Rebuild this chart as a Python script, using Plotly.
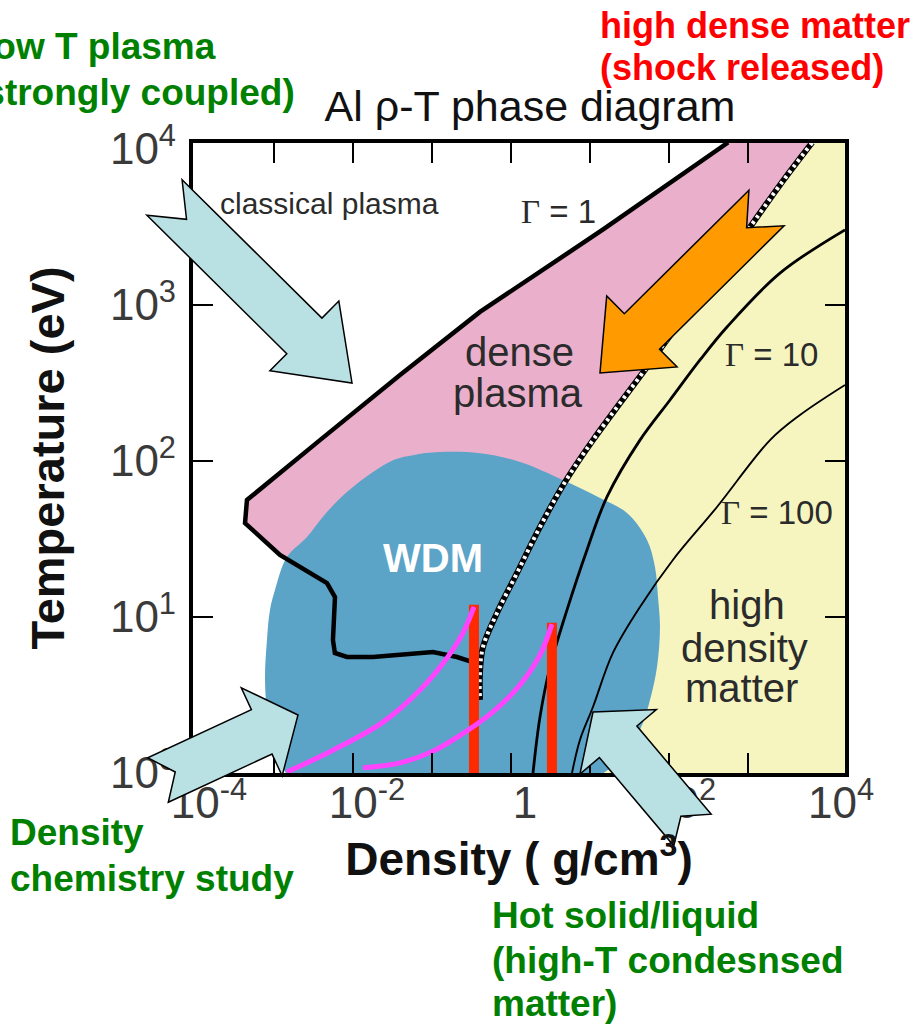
import math
import plotly.graph_objects as go

# ---------------------------------------------------------------
# Al density-temperature plane: region boundaries and guide curves
# density rho in g/cm^3, temperature T in eV
# ---------------------------------------------------------------

# Gamma = 1 boundary (classical plasma / dense plasma)
gamma1_rho = [560, 15.0, 0.405, 0.0394, 0.00382, 4.55e-4, 4.3e-4, 1.19e-3,
              4.69e-3, 5.92e-3, 5.58e-3, 5.9e-3, 8.4e-3, 0.0179, 0.103, 0.207, 0.321]
gamma1_T = [11000, 3070, 902, 356, 136, 56.2, 40.0, 25.0,
            16.5, 13.4, 7.12, 5.88, 5.54, 5.54, 5.97, 5.54, 5.15]

# dashed boundary between dense plasma and high density matter
degen_rho = [6500, 2540, 1157, 247, 57.5, 10.9, 4.83, 2.33, 1.19, 0.665, 0.442, 0.405, 0.405]
degen_T = [11000, 5880, 3357, 1159, 425, 136, 73.3, 37.8, 19.1, 10.6, 6.42, 4.38, 2.94]

# Gamma = 10 and Gamma = 100 coupling lines
gamma10_rho = [16900, 2540, 542, 247, 103, 42.9, 16.4, 9.16, 5.12, 3.12, 2.33, 1.90]
gamma10_T = [3030, 1600, 722, 444, 246, 136, 58.8, 26.9, 11.1, 4.78, 2.29, 1.0]

gamma100_rho = [16900, 4550, 1900, 405, 112, 42.9, 19.5, 10.9, 7.47, 5.92]
gamma100_T = [307, 197, 136, 50.7, 23.2, 11.6, 5.88, 2.65, 1.63, 1.0]

# warm dense matter domain outline
wdm_rho = [1.46e-3, 1.03e-3, 8.4e-4, 7.7e-4, 8.15e-4, 8.9e-4, 1.03e-3, 1.46e-3,
           2.62e-3, 4.69e-3, 0.010, 0.0321, 0.0574, 0.126, 0.405, 1.30, 4.55,
           13.4, 29.4, 52.7, 66.5, 72.6, 76.9, 70.5, 57.5, 42.9, 24.0, 13.4]
wdm_T = [0.97, 1.40, 2.19, 3.95, 7.12, 11.1, 14.9, 24.2,
         32.6, 47.1, 68.1, 101, 109, 114, 112, 98.6, 75.5,
         57.9, 46.4, 31.2, 20.9, 13.4, 8.63, 4.78, 2.94, 1.89, 1.21, 0.97]

# release paths from the heated states
path1_rho = [1.46e-3, 5.58e-3, 0.024, 0.0705, 0.155, 0.247, 0.34]
path1_T = [1.015, 1.40, 2.12, 3.40, 5.46, 7.90, 11.6]
path2_rho = [0.0134, 0.0394, 0.109, 0.277, 0.627, 1.30, 2.33, 3.3]
path2_T = [1.08, 1.16, 1.40, 1.86, 2.53, 3.67, 5.71, 9.0]

# isochoric heating: density and peak temperature
heated_rho = [0.34, 3.3]
heated_T = [12.0, 9.2]

# axis ticks and labels
x_tick_vals = [1e-3, 1e-2, 1e-1, 1, 10, 100, 1000]
x_label_vals = [1e-4, 1e-2, 1, 1e2, 1e4]
x_label_text = ["10<sup>-4</sup>", "10<sup>-2</sup>", "1", "10<sup>2</sup>", "10<sup>4</sup>"]
y_tick_vals = [10, 100, 1000]
y_label_vals = [1, 10, 100, 1000, 10000]
y_label_text = ["10<sup>0</sup>", "10<sup>1</sup>", "10<sup>2</sup>", "10<sup>3</sup>", "10<sup>4</sup>"]

X_RANGE = [-4.025, 4.228]
Y_RANGE = [0.0, 4.038]

# ---------------------------------------------------------------
W, H = 918, 1025
ML, MR, MT, MB = 193, 73, 143, 252
PW, PH = W - ML - MR, H - MT - MB

PINK = "#E9AFCB"
YELLOW = "#F6F5C0"
BLUE = "#5BA3C7"
MAGENTA = "#FF44FF"
RED = "#FF2A00"
CYAN = "#B9E0E3"
ORANGE = "#FF9A00"
INK = "#2b2b2b"
GREEN = "#008000"
FONT = "Liberation Sans, Arial, Helvetica, sans-serif"

fig = go.Figure()


def area(xs, ys, color, shape="linear"):
    fig.add_trace(go.Scatter(x=xs, y=ys, mode="lines", fill="toself", fillcolor=color,
                             line=dict(width=0, shape=shape), hoverinfo="skip",
                             showlegend=False))


def curve(xs, ys, color, width, shape="linear", dash="solid", axes=("x", "y")):
    fig.add_trace(go.Scatter(x=xs, y=ys, mode="lines",
                             line=dict(color=color, width=width, shape=shape, dash=dash),
                             xaxis=axes[0], yaxis=axes[1],
                             hoverinfo="skip", showlegend=False))


# regions
area(gamma1_rho + degen_rho[::-1], gamma1_T + degen_T[::-1], PINK)
area(degen_rho + [0.405, 3e4, 3e4], degen_T + [0.9, 0.9, 1.2e4], YELLOW)
area(wdm_rho, wdm_T, BLUE, shape="spline")

# boundaries
curve(gamma1_rho, gamma1_T, "black", 4.5)
curve(degen_rho, degen_T, "black", 6, shape="spline")
curve(degen_rho, degen_T, "white", 4, shape="spline", dash="3px,4px")
curve(gamma10_rho, gamma10_T, "black", 2.8, shape="spline")
curve(gamma100_rho, gamma100_T, "black", 1.9, shape="spline")

# heating paths on the overlay subplot
bar_x, bar_y = [], []
for r, t in zip(heated_rho, heated_T):
    bar_x += [r, r, None]
    bar_y += [1.0, t, None]
curve(bar_x, bar_y, RED, 10, axes=("x2", "y2"))
curve(path1_rho, path1_T, MAGENTA, 5, shape="spline", axes=("x2", "y2"))
curve(path2_rho, path2_T, MAGENTA, 5, shape="spline", axes=("x2", "y2"))


# ---------------------------------------------------------------
# text inside the diagram
def label(rho, T, text, size, color=INK):
    return dict(x=math.log10(rho), y=math.log10(T), xref="x", yref="y", text=text,
                showarrow=False, font=dict(family=FONT, size=size, color=color))


GAMMA = "<span style='font-family:Liberation Serif, Times New Roman, serif'>\u0393</span>"
annotations = [
    label(5.1e-3, 4500, "classical plasma", 30),
    label(3.94, 3950, GAMMA + " = 1", 33),
    label(1.30, 500, "dense", 40),
    label(1.23, 273, "plasma", 40),
    label(2010, 478, GAMMA + " = 10", 33),
    label(2330, 46.4, GAMMA + " = 100", 33),
    label(971, 11.9, "high", 40),
    label(916, 6.33, "density", 40),
    label(839, 3.51, "matter", 40),
    label(0.103, 23.9, "<b>WDM</b>", 40, "white"),
]


def to_paper(px, py):
    return (px - ML) / PW, (MT + PH - py) / PH


def note(px, py, text, color, anchor="left", size=37):
    x, y = to_paper(px, py)
    return dict(x=x, y=y, xref="paper", yref="paper", xanchor=anchor, yanchor="middle",
                text="<b>" + text + "</b>", showarrow=False,
                font=dict(family=FONT, size=size, color=color))


annotations += [
    note(218, 46, "low T plasma", GREEN, "right"),
    note(297, 92, "(strongly coupled)", GREEN, "right"),
    note(598, 25, "high dense matter", "#FF0000", size=36),
    note(598, 68, "(shock released)", "#FF0000", size=36),
    note(8, 832, "Density", GREEN),
    note(8, 878, "chemistry study", GREEN),
    note(490, 915, "Hot solid/liquid", GREEN),
    note(490, 960, "(high-T condesnsed", GREEN),
    note(490, 1003, "matter)", GREEN),
]

# ---------------------------------------------------------------
# block arrows pointing at the regions (figure pixels)
callouts = [
    dict(tail=(164.5, 197.5), tip=(352, 383), shaft=50, head=98, head_len=67, notch=31, fill=CYAN),
    dict(tail=(158, 780), tip=(298, 715), shaft=49, head=97, head_len=40, notch=19, fill=CYAN),
    dict(tail=(692.5, 830), tip=(593, 712), shaft=49, head=100, head_len=39, notch=18, fill=CYAN),
    dict(tail=(766.5, 208), tip=(600, 373), shaft=50, head=100, head_len=59, notch=28, fill=ORANGE),
]


def arrow_path(c):
    tx, ty = c["tail"]
    dx, dy = c["tip"][0] - tx, c["tip"][1] - ty
    L = math.hypot(dx, dy)
    ux, uy = dx / L, dy / L
    nx, ny = -uy, ux
    base = L - c["head_len"]

    def pt(a, b):
        return to_paper(tx + ux * a + nx * b, ty + uy * a + ny * b)

    pts = [pt(0, c["shaft"] / 2), pt(base, c["shaft"] / 2), pt(base, c["head"] / 2),
           pt(L, 0), pt(base, -c["head"] / 2), pt(base, -c["shaft"] / 2),
           pt(0, -c["shaft"] / 2), pt(c["notch"], 0)]
    return "M " + " L ".join(f"{x:.5f},{y:.5f}" for x, y in pts) + " Z"


shapes = [dict(type="path", xref="paper", yref="paper", path=arrow_path(c),
               fillcolor=c["fill"], line=dict(color="black", width=1.5), layer="above")
          for c in callouts]

# ---------------------------------------------------------------
frame = dict(type="log", showgrid=False, zeroline=False, showline=True, linewidth=4,
             linecolor="black", mirror="ticks", ticks="inside", ticklen=20, tickwidth=2,
             tickcolor="black", showticklabels=False)
labels_axis = dict(type="log", showgrid=False, zeroline=False, showline=False, ticks="",
                   tickfont=dict(family=FONT, size=44, color="#3a3a3a"))

fig.update_layout(
    width=W, height=H,
    margin=dict(l=ML, r=MR, t=MT, b=MB, pad=0),
    paper_bgcolor="white", plot_bgcolor="white",
    font=dict(family=FONT),
    showlegend=False,
    title=dict(text="Al \u03c1-T phase diagram", x=(530 - ML) / PW, xref="paper",
               xanchor="center", y=1 - 106 / H, yref="container", yanchor="middle",
               font=dict(family=FONT, size=43, color="#111111")),
    xaxis=dict(frame, range=X_RANGE, tickvals=x_tick_vals),
    yaxis=dict(frame, range=Y_RANGE, tickvals=y_tick_vals),
    xaxis2=dict(labels_axis, overlaying="x", anchor="y2", side="bottom", range=X_RANGE,
                tickvals=x_label_vals, ticktext=x_label_text, ticklabelshift=14,
                ticklabelstandoff=0,
                title=dict(text="<b>Density ( g/cm<sup>3</sup>)</b>", standoff=0,
                           font=dict(family=FONT, size=46, color="#111111"))),
    yaxis2=dict(labels_axis, overlaying="y", anchor="x2", side="left", range=Y_RANGE,
                tickvals=y_label_vals, ticktext=y_label_text, ticklabelstandoff=16,
                title=dict(text="<b>Temperature (eV)</b>", standoff=30,
                           font=dict(family=FONT, size=47, color="#111111"))),
    annotations=annotations,
    shapes=shapes,
)

fig.write_html("out.html", config={"displayModeBar": False})
